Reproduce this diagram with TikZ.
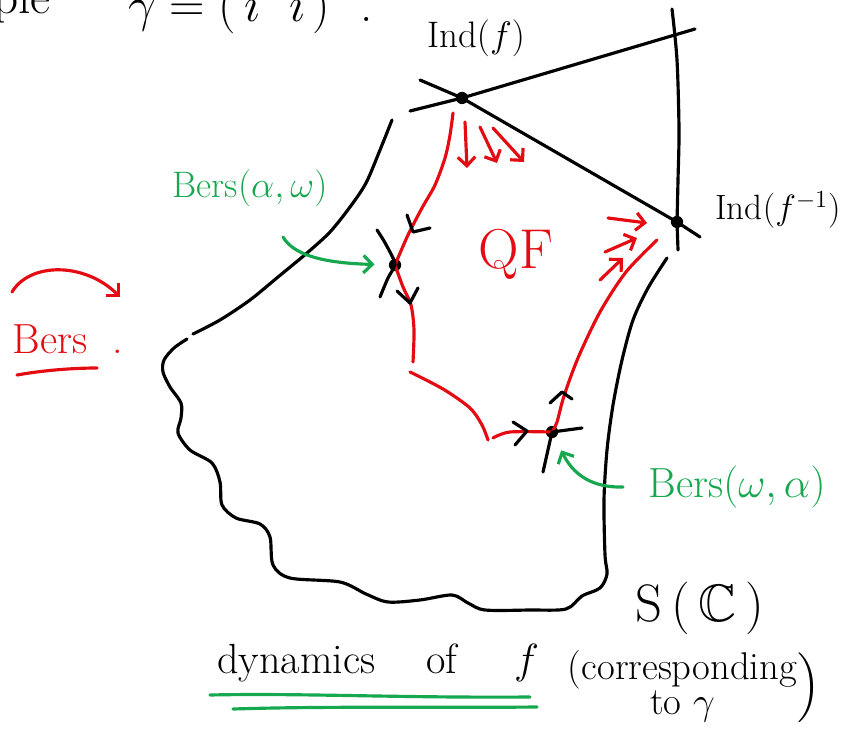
\RequirePackage{fix-cm}
\documentclass[tikz,border=0pt]{standalone}
\usepackage{fontspec}
\usepackage{amssymb}
\usetikzlibrary{arrows.meta}

\definecolor{penred}{RGB}{228,12,18}
\definecolor{pengreen}{RGB}{22,168,78}

\tikzset{
  pen/.style={line width=1.8pt, line cap=round, line join=round},
  redpen/.style={pen, penred},
  greenpen/.style={pen, pengreen},
  chev/.style={pen, black},
  dot/.style={circle, fill=black, inner sep=0pt, minimum size=7pt},
  hand/.style={font=\fontsize{#1}{#1}\selectfont},
}

\begin{document}
\begin{tikzpicture}[x=0.02cm, y=-0.02cm, >={Straight Barb[length=5pt,width=10pt]}]
    \useasboundingbox (0,0) rectangle (858,733);

    % Draw Fixed Points
    \node[dot] (indf) at (462,98) {};
    \node[dot] (indfi) at (677,222) {};
    \node[dot] (bersaw) at (395,265) {};
    \node[dot] (bersow) at (552,432) {};

    % Draw Indeterminacy Lines
    \draw[pen] (410,111) -- (indf.center) -- (695,29);
    \draw[pen] (420,80) -- (indf.center) -- (indfi.center) -- (700,237);
    \draw[pen] plot[smooth] coordinates {(672,9) (677,60) (679,130) (678,180) (indfi.center)} -- (678,250);
    \node[hand=21] (lblf) at (476,38) {Ind$(f)$};
    \node[hand=20] (lblfi) at (778,210) {Ind$(f^{-1})$};

    % Draw Boundary of S(C)
    \draw[pen] plot[smooth] coordinates {(392,120) (380,150) (366,183) (350,207) (330,232) (307,253) (278,277) (250,300) (220,320) (193,334)};
    \draw[pen] plot[smooth] coordinates {(187,339) (174,348) (164,360) (163,372) (170,387) (181,403) (181,418) (178,433) (190,450) (212,463) (220,482) (222,505) (236,518) (260,524) (270,537) (273,565) (290,578) (340,582) (366,594) (388,602) (420,600) (452,595) (468,603) (485,610) (530,610) (566,609) (582,596) (600,588) (607,574) (605,555) (604,500) (607,450) (613,405) (622,360) (633,320) (648,288) (667,258)};
    \node[hand=30] (sc) at (700,608) {S\,(\,$\mathbb{C}$\,)};

    % Draw QF Boundary Path
    \draw[redpen] plot[smooth] coordinates {(453,113) (450,135) (445,158) (435,185) (422,208) (408,235) (bersaw.center)};
    \draw[redpen] plot[smooth] coordinates {(bersaw.center) (403,287) (411,305) (414,330) (413,362)};
    \draw[redpen] plot[smooth] coordinates {(410,372) (443,389) (470,408) (482,425) (488,440)};
    \draw[redpen] plot[smooth] coordinates {(493,438) (510,432) (bersow.center)};
    \draw[redpen] plot[smooth] coordinates {(bersow.center) (557,422) (564,396) (578,358) (600,312) (626,272) (657,240)};
    \node[hand=32, text=penred] (qf) at (516,254) {QF};

    % Draw Flow Direction
    \draw[chev] (407,215) -- (413,232) -- (430,228);
    \draw[chev] (397,291) -- (410,303) -- (418,288);
    \draw[chev] (513,422) -- (527,431) -- (515,445);
    \draw[chev] (550,403) -- (562,392) -- (572,399);
    \draw[redpen, ->] (465,122) -- (467,168);
    \draw[redpen, ->] (480,127) -- (497,163);
    \draw[redpen, ->] (493,128) -- (524,162);
    \draw[redpen, ->] (608,218) -- (647,223);
    \draw[redpen, ->] (605,252) -- (637,238);
    \draw[redpen, ->] (600,280) -- (623,258);

    % Draw Crossing Directions
    \draw[pen] plot[smooth] coordinates {(377,230) (384,241) (392,256) (bersaw.center) (388,278) (380,297)};
    \draw[pen] (582,428) -- (bersow.center) -- (543,472);

    % Draw Bers Labels
    \node[hand=21, text=pengreen] (lblaw) at (250,188) {Bers$(\alpha,\omega)$};
    \coordinate (gaw) at (283,237);
    \draw[greenpen, ->, shorten >=8pt] (gaw) .. controls (293,254) and (320,263) .. (bersaw);
    \node[hand=24, text=pengreen] (lblow) at (737,487) {Bers$(\omega,\alpha)$};
    \coordinate (gow) at (623,487);
    \draw[greenpen, ->, shorten >=8pt] (gow) .. controls (585,488) and (570,468) .. (bersow);

    % Draw Bers Map
    \draw[redpen, ->] (12,292) .. controls (30,262) and (85,262) .. (120,297);
    \node[hand=24, text=penred] (bers) at (68,339) {Bers\ \ .};
    \draw[redpen] (17,375) .. controls (45,370) and (75,368) .. (97,368);

    % Draw Captions
    \node[hand=28, anchor=base east] (ple) at (57,14) {ple};
    \node[hand=28, anchor=base west] (gam) at (122,22) {$\gamma = (\,\imath\ \ \imath\,)$\ \ .};
    \node[hand=24, anchor=base west] (dyn) at (211,673) {dynamics};
    \node[hand=24, anchor=base west] (of) at (420,673) {of};
    \node[hand=24, anchor=base west] (fmap) at (508,673) {$f$};
    \draw[greenpen] (210,695) .. controls (300,693) and (400,698) .. (530,697);
    \draw[greenpen] (233,709) .. controls (330,706) and (430,708) .. (537,707);
    \node[hand=22, inner sep=0pt] (corr) at (693,688) {$\left.\begin{tabular}{@{}c@{}}(corresponding\\[-2pt] to $\gamma$\end{tabular}\right)$};
\end{tikzpicture}
\end{document}
